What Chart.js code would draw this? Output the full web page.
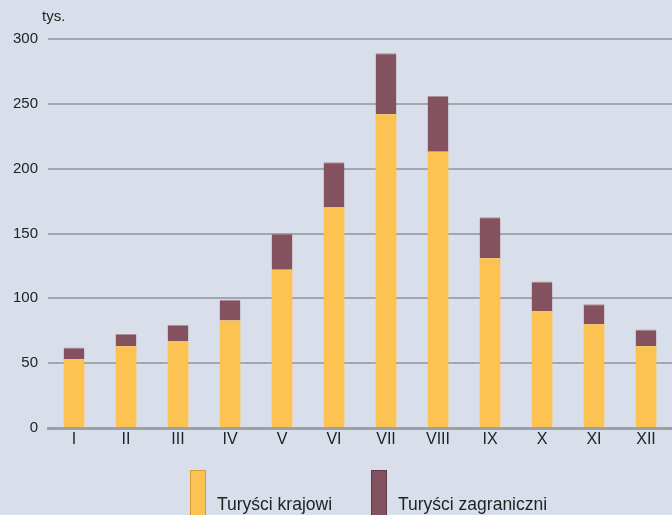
<!DOCTYPE html>
<html>
<head>
<meta charset="utf-8">
<script src="https://cdn.jsdelivr.net/npm/chart.js@4"></script>
<style>
html,body{margin:0;padding:0;background:#d9dfea;}
#wrap{width:672px;height:515px;position:relative;}
</style>
</head>
<body>
<div id="wrap"><canvas id="c" width="672" height="515"></canvas></div>
<script>
const categories = ['I','II','III','IV','V','VI','VII','VIII','IX','X','XI','XII'];
const domestic = [53, 63, 67, 83, 122, 170, 242, 213, 131, 90, 80, 63];
const foreign = [9, 9.5, 12.5, 16, 28, 35, 47, 43, 31.5, 23, 15.5, 13];
const seriesNames = ['Turyści krajowi', 'Turyści zagraniczni'];
const yTicks = [0, 50, 100, 150, 200, 250, 300];
const unitLabel = 'tys.';

const FONT = "'Liberation Sans', Arial, sans-serif";

const decor = {
  id: 'decor',
  afterDraw(chart) {
    const ctx = chart.ctx;
    ctx.save();
    ctx.font = '15px ' + FONT;
    ctx.fillStyle = '#222';
    ctx.textBaseline = 'middle';
    ctx.textAlign = 'left';
    ctx.fillText(unitLabel, 42, 17);
    // legend
    const items = chart.data.datasets;
    const xs = [190, 371];
    ctx.font = '17.5px ' + FONT;
    items.forEach((ds, i) => {
      const x = xs[i];
      ctx.fillStyle = ds.backgroundColor;
      ctx.fillRect(x, 470, 16, 50);
      ctx.strokeStyle = ds.legendBorder;
      ctx.lineWidth = 1;
      ctx.strokeRect(x + 0.5, 470.5, 15, 50);
      ctx.fillStyle = '#222';
      ctx.fillText(ds.label, x + 27, 505);
    });
    ctx.restore();
  }
};

new Chart(document.getElementById('c'), {
  type: 'bar',
  data: {
    labels: categories,
    datasets: [
      { label: seriesNames[0], data: domestic, backgroundColor: '#fdc352', legendBorder: '#d79a3a',
        borderWidth: 0 },
      { label: seriesNames[1], data: foreign, backgroundColor: '#84525f', legendBorder: '#5e3843',
        borderColor: '#b08f99', borderWidth: {top:1,left:0,right:0,bottom:0} }
    ]
  },
  options: {
    responsive: false,
    animation: false,
    devicePixelRatio: 1,
    layout: { padding: { top: 39, right: 0, left: 0, bottom: 0 } },
    datasets: { bar: { categoryPercentage: 0.4, barPercentage: 1 } },
    plugins: { legend: { display: false }, tooltip: { enabled: false } },
    scales: {
      x: {
        stacked: true,
        grid: { display: false, drawTicks: false },
        border: { display: true, color: '#9c9fa5', width: 3 },
        ticks: { font: { size: 16, family: FONT }, color: '#222', padding: 2 },
        afterFit(s) { s.height = 87; }
      },
      y: {
        stacked: true,
        min: 0, max: 300,
        afterBuildTicks(s) { s.ticks = yTicks.map(v => ({ value: v })); },
        grid: { color: '#a3a6ad', lineWidth: 2, drawTicks: false },
        border: { display: false },
        ticks: { font: { size: 15, family: FONT }, color: '#222', padding: 10 },
        afterFit(s) { s.width = 48; }
      }
    }
  },
  plugins: [decor]
});
</script>
</body>
</html>
